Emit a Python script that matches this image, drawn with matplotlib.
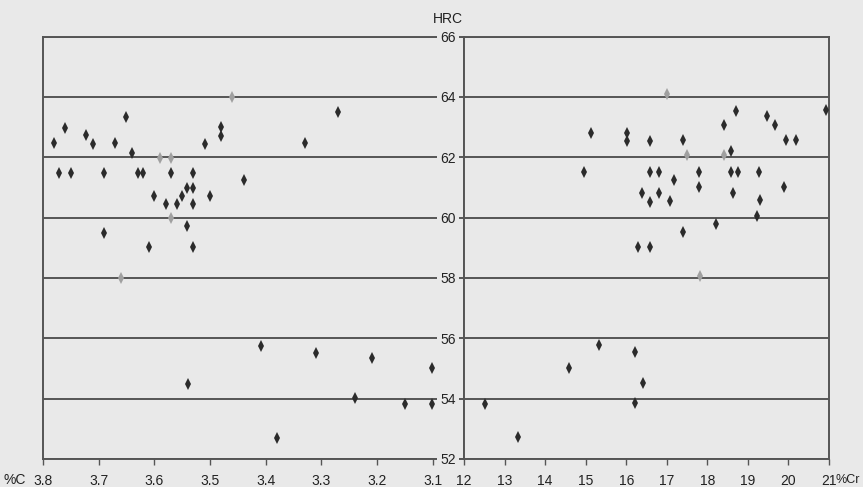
import matplotlib.pyplot as plt

# %C side (left, axis runs 3.8 -> 3.1)
c_pts = [3.651, 3.760, 3.480, 3.480, 3.781, 3.722, 3.711, 3.671, 3.509, 3.640,
         3.771, 3.750, 3.690, 3.630, 3.620, 3.570, 3.530, 3.439, 3.541, 3.530,
         3.551, 3.601, 3.500, 3.580, 3.559, 3.530, 3.541, 3.690, 3.610, 3.530,
         3.409, 3.539, 3.379, 3.271, 3.330, 3.310, 3.210, 3.240, 3.150, 3.101,
         3.101]
c_hrc = [63.32, 62.98, 62.99, 62.71, 62.46, 62.72, 62.45, 62.46, 62.45, 62.15,
         61.48, 61.48, 61.48, 61.48, 61.48, 61.48, 61.48, 61.24, 60.97, 60.97,
         60.73, 60.70, 60.70, 60.46, 60.46, 60.46, 59.72, 59.48, 59.02, 59.02,
         55.74, 54.49, 52.71, 63.49, 62.46, 55.50, 55.36, 54.03, 53.83, 55.00,
         53.83]
c_faint = [3.46, 3.590, 3.570, 3.570, 3.660]
c_faint_hrc = [64.0, 61.98, 61.98, 59.98, 57.99]

# %Cr side (right)
cr_pts = [12.53, 13.34, 14.59, 15.32, 16.22, 16.41, 16.22, 15.14, 16.03, 16.03,
          16.59, 14.96, 16.59, 16.81, 17.19, 16.39, 16.81, 16.59, 17.07, 16.30,
          16.59, 18.70, 19.48, 19.68, 18.40, 20.92, 17.41, 19.94, 20.18, 18.58,
          17.79, 18.58, 18.76, 19.28, 17.79, 18.63, 19.89, 19.29, 19.23, 18.21,
          17.41]
cr_hrc = [53.83, 52.74, 55.03, 55.78, 55.54, 54.51, 53.85, 62.79, 62.81, 62.53,
          62.54, 61.51, 61.52, 61.52, 61.25, 60.80, 60.80, 60.53, 60.55, 59.04,
          59.04, 63.54, 63.38, 63.07, 63.06, 63.56, 62.56, 62.56, 62.56, 62.22,
          61.52, 61.52, 61.52, 61.52, 61.02, 60.83, 61.02, 60.58, 60.06, 59.79,
          59.53]
cr_faint = [17.0, 17.49, 18.40, 17.81]
cr_faint_hrc = [64.08, 62.07, 62.07, 58.06]

hrc_ticks = [52, 54, 56, 58, 60, 62, 64, 66]
c_ticks = [3.8, 3.7, 3.6, 3.5, 3.4, 3.3, 3.2, 3.1]
cr_ticks = [12, 13, 14, 15, 16, 17, 18, 19, 20, 21]

plt.rcParams['font.family'] = ['Liberation Sans Narrow', 'Liberation Sans', 'DejaVu Sans']

bg = '#e9e9e9'
line_c = '#555555'
dot_c = '#2b2b2b'
txt_c = '#222222'
fs = 10

fig = plt.figure(figsize=(8.63, 4.87), dpi=100, facecolor=bg)
W, H = 863, 487
bottom = 1 - 459 / H
height = 422.5 / H
ax1 = fig.add_axes([43 / W, bottom, 421 / W, height])
ax2 = fig.add_axes([464 / W, bottom, 365 / W, height])

for ax in (ax1, ax2):
    ax.set_facecolor(bg)
    ax.set_ylim(52, 66)
    ax.set_yticks(hrc_ticks)
    ax.yaxis.grid(True, color=line_c, linewidth=1.4)
    ax.set_axisbelow(True)
    for s in ax.spines.values():
        s.set_color(line_c)
        s.set_linewidth(1.4)
    ax.tick_params(axis='x', direction='out', length=4, width=1, color=line_c,
                   labelsize=fs, pad=7, labelcolor=txt_c)

ax1.set_xlim(3.8, 3.044)
ax1.set_xticks(c_ticks)
ax1.set_xticklabels([str(t) for t in c_ticks])
ax1.tick_params(axis='y', left=False, labelleft=False)

ax2.set_xlim(12, 21)
ax2.set_xticks(cr_ticks)
ax2.set_xticklabels([str(t) for t in cr_ticks])
ax2.tick_params(axis='y', left=True, length=0, labelsize=fs, pad=6,
                labelcolor=txt_c)
for lbl in ax2.get_yticklabels():
    lbl.set_bbox(dict(facecolor=bg, edgecolor='none', pad=2.5))

mk = dict(linestyle='none', marker='d', markersize=5.8, markeredgewidth=0)
ax1.plot(c_faint, c_faint_hrc, color='#a0a0a0', zorder=3, **mk)
ax1.plot(c_pts, c_hrc, color=dot_c, zorder=4, **mk)
ax2.plot(cr_faint, cr_faint_hrc, color='#a0a0a0', zorder=3, **mk)
ax2.plot(cr_pts, cr_hrc, color=dot_c, zorder=4, **mk)

fig.text(448 / W, 1 - 19 / H, 'HRC', ha='center', va='center', fontsize=fs,
         color=txt_c)
fig.text(3 / W, 1 - 480 / H, '%C', ha='left', va='center', fontsize=fs,
         color=txt_c)
fig.text(860 / W, 1 - 480 / H, '%Cr', ha='right', va='center', fontsize=9,
         color=txt_c)

fig.savefig('out.png', dpi=100, facecolor=bg)
